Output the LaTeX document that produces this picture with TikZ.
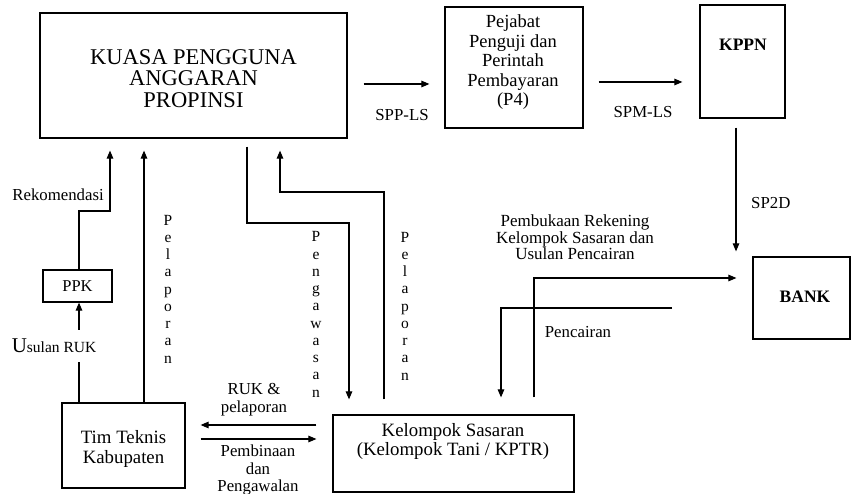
\documentclass[tikz,border=0pt]{standalone}
\usepackage{fontspec}
\setmainfont{Liberation Serif}
\usetikzlibrary{arrows.meta}
\begin{document}
\begin{tikzpicture}[x=1pt,y=-1pt,
  box/.style={draw, line width=1.2pt, inner sep=0pt},
  arr/.style={line width=1.1pt, -{Triangle[length=8pt,width=6.5pt]}},
  lbl/.style={inner sep=0pt, align=center},
  vlet/.style={inner sep=0pt, align=center, font=\fontsize{15.5}{17.25}\selectfont},
  small/.style={lbl, font=\fontsize{16.8}{18}\selectfont},
]
\useasboundingbox[fill=white] (0,0) rectangle (852,494);

% boxes
\node[box, minimum width=307pt, minimum height=125pt] (kpa) at (193.5,75.5) {};
\node[lbl, font=\fontsize{22.5}{21.5}\selectfont] (kpat) at (193.5,78.5) {KUASA PENGGUNA\\ANGGARAN\\PROPINSI};

\node[box, minimum width=138pt, minimum height=121pt] (p4) at (514,67.5) {};
\node[lbl, font=\fontsize{18.5}{19.5}\selectfont] (p4t) at (513,62.5) {Pejabat\\Penguji dan\\Perintah\\Pembayaran\\(P4)};

\node[box, minimum width=85pt, minimum height=113pt] (kppn) at (742.5,61.5) {};
\node[lbl, font=\fontsize{17.5}{19}\selectfont\bfseries] (kppnt) at (743,45) {KPPN};

\node[box, minimum width=97pt, minimum height=82pt] (bank) at (801.5,298) {};
\node[lbl, font=\fontsize{17.5}{19}\selectfont\bfseries] (bankt) at (805,297) {BANK};

\node[box, minimum width=241pt, minimum height=77pt] (ks) at (453.5,453.5) {};
\node[lbl, font=\fontsize{18.8}{19}\selectfont] (kst) at (453,441.5) {Kelompok Sasaran\\(Kelompok Tani / KPTR)};

\node[box, minimum width=123pt, minimum height=85pt] (tim) at (123.5,445.5) {};
\node[lbl, font=\fontsize{18.8}{20}\selectfont] (timt) at (123.5,449) {Tim Teknis\\Kabupaten};

\node[box, minimum width=69pt, minimum height=32pt, font=\fontsize{16.5}{18}\selectfont] (ppk) at (77.5,286) {PPK};

% helper coordinates
\coordinate (ySPP) at (0,84);
\coordinate (ySPM) at (0,82);
\coordinate (xSP2D) at (736,0);
\coordinate (xUsul) at (79,0);
\coordinate (rekA) at (79,211);
\coordinate (rekB) at (110,211);
\coordinate (xPelL) at (144,0);
\coordinate (pgA) at (247,223);
\coordinate (pgB) at (349,223);
\coordinate (plA) at (384,192);
\coordinate (plB) at (280,192);
\coordinate (bkA) at (534,278);
\coordinate (bkB) at (737,278);
\coordinate (pcA) at (672,308);
\coordinate (pcB) at (501,308);
\coordinate (yRUK) at (0,425);
\coordinate (yPem) at (0,439);

% connectors
\draw[arr, shorten <=16pt, shorten >=15pt] (kpa.east |- ySPP) -- (p4.west |- ySPP);
\draw[arr, shorten <=15pt, shorten >=17pt] (p4.east |- ySPM) -- (kppn.west |- ySPM);
\draw[arr, shorten <=9pt, shorten >=5pt] (kppn.south -| xSP2D) -- (bank.north -| xSP2D);

\draw[arr] (tim.north -| xUsul) -- (ppk.south -| xUsul);
\draw[arr, shorten >=12pt] (ppk.north -| xUsul) -- (rekA) -- (rekB) -- (kpa.south -| rekB);
\draw[arr, shorten >=12pt] (tim.north -| xPelL) -- (kpa.south -| xPelL);

\draw[arr, shorten <=8pt, shorten >=15pt] (kpa.south -| pgA) -- (pgA) -- (pgB) -- (ks.north -| pgB);
\draw[arr, shorten <=15pt, shorten >=12pt] (ks.north -| plA) -- (plA) -- (plB) -- (kpa.south -| plB);

\draw[arr, shorten <=17pt, shorten >=16pt] (ks.north -| bkA) -- (bkA) -- (bank.west |- bkB);
\draw[arr, shorten >=17pt] (pcA) -- (pcB) -- (ks.north -| pcB);

\draw[arr, shorten <=16pt, shorten >=15pt] (ks.west |- yRUK) -- (tim.east |- yRUK);
\draw[arr, shorten <=15pt, shorten >=16pt] (tim.east |- yPem) -- (ks.west |- yPem);

% labels
\node[small] (lspp) at (402,115) {SPP-LS};
\node[small] (lspm) at (643,112) {SPM-LS};
\node[small, anchor=west] (lsp2d) at (751,203) {SP2D};
\node[small, anchor=east] (lrek) at (104,195) {Rekomendasi};
\node[lbl, fill=white, inner xsep=1pt, inner ysep=9pt, font=\fontsize{15.5}{18}\selectfont] (lusul) at (54,346) {{\fontsize{21}{21}\selectfont U}sulan RUK};
\node[vlet] (lpel1) at (168,289) {P\\e\\l\\a\\p\\o\\r\\a\\n};
\node[vlet] (lpeng) at (316,314.5) {P\\e\\n\\g\\a\\w\\a\\s\\a\\n};
\node[vlet] (lpel2) at (405,306) {P\\e\\l\\a\\p\\o\\r\\a\\n};
\node[lbl, font=\fontsize{17}{14.5}\selectfont] (lbuka) at (575,237.5) {Pembukaan Rekening\\Kelompok Sasaran dan\\Usulan Pencairan};
\node[small] (lcair) at (578,332) {Pencairan};
\node[small] (lruk) at (254,400) {RUK \&\\pelaporan};
\node[lbl, font=\fontsize{16.8}{17.5}\selectfont] (lpemb) at (258,470) {Pembinaan\\dan\\Pengawalan};
\end{tikzpicture}
\end{document}
